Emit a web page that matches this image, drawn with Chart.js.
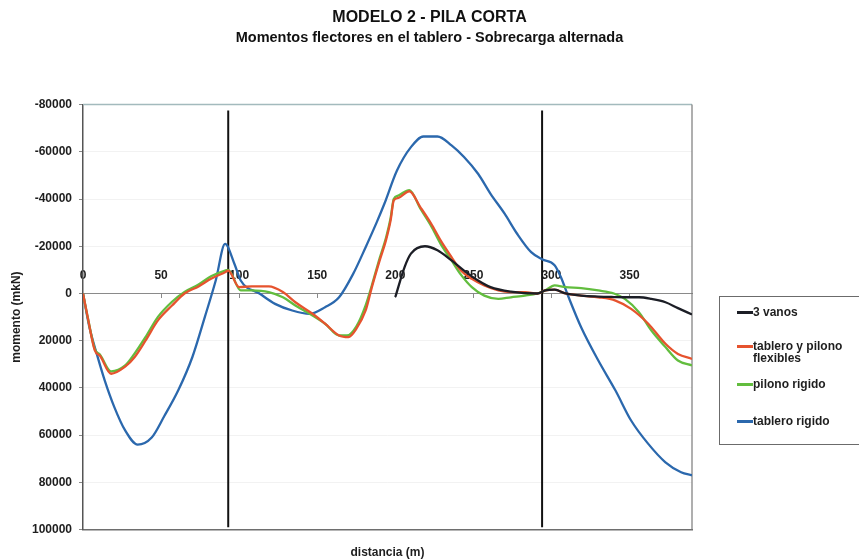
<!DOCTYPE html>
<html>
<head>
<meta charset="utf-8">
<script src="https://cdn.jsdelivr.net/npm/chart.js@4.4.1/dist/chart.umd.min.js"></script>
<style>
  html, body { margin: 0; padding: 0; background: #fff; }
  #wrap { position: relative; width: 859px; height: 560px; overflow: hidden; }
  #legend {
    position: absolute; left: 719px; top: 296px; width: 160px; height: 149px;
    border: 1px solid #6b6b6b; box-sizing: border-box;
    font: bold 12px "Liberation Sans", Arial, sans-serif; color: #1e1e1e;
  }
  .item { position: absolute; left: 17px; display: flex; align-items: flex-start; }
  .swatch { width: 16px; height: 3px; margin-top: 5px; flex: none; }
  .txt { width: 100px; line-height: 12px; }
</style>
</head>
<body>
<div id="wrap">
  <canvas id="c" width="859" height="560"></canvas>
  <div id="legend"></div>
</div>
<script>
// ---- Title and axis texts ----
const titleMain = 'MODELO 2 - PILA CORTA';
const titleSub = 'Momentos flectores en el tablero - Sobrecarga alternada';
const xAxisTitle = 'distancia (m)';
const yAxisTitle = 'momento (mkN)';

// ---- Axis ranges / ticks ----
const xMin = 0, xMax = 390, xStep = 50;
const yMin = -80000, yMax = 100000, yStep = 20000;

// ---- Series names ----
const seriesNames = ['3 vanos', 'tablero y pilono flexibles', 'pilono rigido', 'tablero rigido'];

// ---- 3 vanos ----
const vanosDist = [200, 206, 210, 219, 227, 236, 244, 253, 261, 274, 291, 296, 302, 309, 319, 330, 340, 347, 356, 364, 373, 381, 390];
const vanosMom  = [1500, -11300, -16900, -20000, -18300, -14000, -9700, -5500, -2700, -800, 0, -1300, -1600, 0, 900, 1300, 1500, 1600, 1600, 2300, 3700, 6200, 8900];

// ---- tablero y pilono flexibles ----
const flexDist = [0, 3, 7.5, 11, 18, 27, 33, 40, 48, 57, 65, 74, 82, 91, 93, 100, 108, 119, 128, 136, 147, 155, 164, 170, 175, 181, 185, 190, 194, 197, 199, 202, 209, 216, 223, 229, 236, 242, 249, 257, 266, 274, 283, 291, 296, 302, 309, 319, 330, 341, 351, 362, 373, 381, 390];
const flexMom  = [0, 10000, 24000, 26500, 34000, 31000, 27000, 20000, 11400, 5100, 0, -3000, -6200, -9000, -9700, -2700, -3000, -3000, -600, 3700, 8600, 12800, 17800, 18500, 15000, 7200, -2700, -14000, -22500, -31000, -39400, -40500, -43300, -36600, -29500, -22500, -15400, -9700, -6200, -3400, -1300, -600, -600, 0, -1300, -1600, 0, 900, 1600, 3000, 6500, 12800, 21300, 25600, 27700];

// ---- pilono rigido ----
const rigPilDist = [0, 3, 7.5, 11, 18, 27, 33, 40, 48, 57, 65, 74, 82, 91, 93, 101, 108, 119, 128, 136, 147, 155, 164, 169, 175, 181, 185, 190, 194, 197, 199, 202, 209, 216, 223, 229, 236, 242, 249, 257, 266, 274, 283, 291, 296, 302, 309, 319, 330, 340, 347, 356, 364, 373, 381, 390];
const rigPilMom  = [0, 10000, 23500, 26000, 33000, 30500, 25500, 18500, 9900, 3500, -700, -3800, -7300, -9700, -10000, -1300, -1300, -600, 1600, 5100, 9300, 12800, 17800, 17800, 14000, 5000, -3500, -15000, -23500, -32000, -40000, -41500, -43800, -36000, -28500, -21000, -14000, -8000, -2700, 900, 2300, 1600, 900, 0, -1300, -3400, -2700, -2300, -1300, 0, 2300, 7900, 15700, 22700, 28400, 30500];

// ---- tablero rigido ----
const rigTabDist = [0, 4, 9, 14, 20, 27, 35, 44, 52, 61, 70, 78, 85, 91, 97, 101, 113, 123, 134, 145, 155, 164, 173, 181, 188, 193, 201, 210, 218, 227, 236, 244, 253, 261, 270, 278, 287, 294, 302, 306, 311, 319, 330, 341, 351, 362, 373, 383, 390];
const rigTabMom  = [0, 14000, 26000, 37000, 48000, 58000, 64000, 61000, 52000, 41000, 27000, 10000, -5500, -21000, -12500, -5500, 0, 4400, 7200, 8600, 5800, 1600, -8300, -19600, -30000, -38000, -52000, -62000, -66500, -66500, -62700, -57800, -50700, -42200, -33800, -25300, -17500, -14500, -12000, -7000, 1600, 14300, 28400, 41100, 53800, 63700, 71500, 75700, 77000];

// ---- Pylon positions (vertical reference lines) ----
const pylonDist = [93, 294];
const pylonMom = [-77500, 99000];

// ---- Styles ----
const FONT = "'Liberation Sans', Arial, sans-serif";
const seriesColors = ['#1c1e26', '#e6532e', '#62bd3e', '#2b68ad'];

const toPoints = (xs, ys) => xs.map((x, i) => ({ x, y: ys[i] }));
const seriesPoints = [
  toPoints(vanosDist, vanosMom),
  toPoints(flexDist, flexMom),
  toPoints(rigPilDist, rigPilMom),
  toPoints(rigTabDist, rigTabMom)
];

const datasets = seriesPoints.map((pts, i) => ({
  label: seriesNames[i],
  data: pts,
  borderColor: seriesColors[i],
  borderWidth: 2.3,
  pointRadius: 0,
  fill: false,
  cubicInterpolationMode: 'monotone'
}));

pylonDist.forEach(d => {
  datasets.push({
    label: '',
    data: pylonMom.map(m => ({ x: d, y: m })),
    borderColor: '#111',
    borderWidth: 2,
    pointRadius: 0,
    fill: false
  });
});

// Top and right edges of the plot frame
const plotFrame = {
  id: 'plotFrame',
  beforeDatasetsDraw(chart) {
    const { ctx, chartArea: { left, right, top, bottom } } = chart;
    ctx.save();
    ctx.lineWidth = 1.5;
    ctx.strokeStyle = '#a3babd';
    ctx.beginPath(); ctx.moveTo(left, top); ctx.lineTo(right, top); ctx.stroke();
    ctx.lineWidth = 1.2;
    ctx.strokeStyle = '#7a7a7a';
    ctx.beginPath(); ctx.moveTo(right, top); ctx.lineTo(right, bottom); ctx.stroke();
    ctx.restore();
  }
};

const tickFont = { family: FONT, size: 12, weight: 'bold' };

new Chart(document.getElementById('c'), {
  type: 'line',
  data: { datasets },
  options: {
    responsive: false,
    animation: false,
    events: [],
    layout: { padding: 0 },
    plugins: {
      legend: { display: false },
      tooltip: { enabled: false },
      title: {
        display: true,
        text: titleMain,
        color: '#111',
        font: { family: FONT, size: 16, weight: 'bold', lineHeight: 1.2 },
        padding: { top: 8, bottom: 0 }
      },
      subtitle: {
        display: true,
        text: titleSub,
        color: '#111',
        font: { family: FONT, size: 14.5, weight: 'bold', lineHeight: 1.2 },
        padding: { top: 2, bottom: 58 }
      }
    },
    scales: {
      x: {
        type: 'linear',
        min: xMin, max: xMax,
        position: { y: 0 },
        ticks: { stepSize: xStep, includeBounds: false, padding: -29, font: tickFont, color: '#1e1e1e', maxRotation: 0 },
        grid: { drawOnChartArea: false, drawTicks: true, tickLength: 4, color: '#8a8a8a' },
        border: { color: '#8a8a8a', width: 1 }
      },
      xTitle: {
        type: 'linear',
        min: xMin, max: xMax,
        position: 'bottom',
        ticks: { display: false },
        grid: { display: false, drawTicks: false },
        border: { display: true, color: '#6e6e6e', width: 1.5 },
        title: { display: true, text: xAxisTitle, color: '#1e1e1e', font: tickFont, padding: { top: 16, bottom: 0 } }
      },
      y: {
        type: 'linear',
        reverse: true,
        min: yMin, max: yMax,
        ticks: { stepSize: yStep, padding: 7, font: tickFont, color: '#1e1e1e', callback: v => String(v) },
        grid: { color: 'rgba(0,0,0,0.05)', tickLength: 4, tickColor: '#888' },
        border: { color: '#555', width: 1.5 },
        title: { display: true, text: yAxisTitle, color: '#1e1e1e', font: tickFont, padding: { top: 9, bottom: 0 } },
        afterFit: s => { s.width = 83; }
      },
      // empty right-hand band that holds the legend box
      legendBand: {
        type: 'linear',
        position: 'right',
        ticks: { display: false },
        grid: { display: false, drawTicks: false },
        border: { display: false },
        afterFit: s => { s.width = 167; }
      }
    }
  },
  plugins: [plotFrame]
});

// Legend box on the right
const legend = document.getElementById('legend');
const itemTops = [9, 43, 81, 118];
seriesNames.forEach((name, i) => {
  const item = document.createElement('div');
  item.className = 'item';
  item.style.top = itemTops[i] + 'px';
  const sw = document.createElement('div');
  sw.className = 'swatch';
  sw.style.background = seriesColors[i];
  const tx = document.createElement('div');
  tx.className = 'txt';
  tx.textContent = name;
  item.appendChild(sw);
  item.appendChild(tx);
  legend.appendChild(item);
});
</script>
</body>
</html>
